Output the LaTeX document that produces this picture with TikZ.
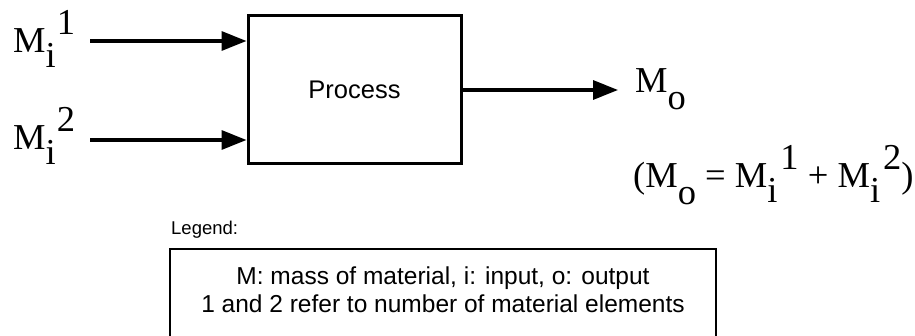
\documentclass[tikz,border=0pt]{standalone}
\usepackage{fontspec}
\setmainfont{Liberation Serif}
\newfontfamily\helv{Liberation Sans}
\usetikzlibrary{arrows.meta}

% flow label: M with a lowered index and a raised number (#3 = gap before the number)
\newcommand\flowlbl[3]{M\lower15pt\hbox{#1}\kern#3\raise18pt\hbox{#2}}

\begin{document}
\begin{tikzpicture}[x=1pt,y=-1pt,
  flow/.style={line width=3.3pt,-{Triangle[length=25pt,width=19pt]}},
  procbox/.style={draw,line width=3pt,minimum width=213pt,minimum height=148pt,inner sep=0pt,
    font=\helv\fontsize{25.5}{30}\selectfont},
  mlabel/.style={anchor=base west,inner sep=0pt,font=\fontsize{36.5}{40}\selectfont},
  legendbox/.style={minimum width=546pt,minimum height=100pt,inner sep=0pt,anchor=north west},
  legendframe/.style={line width=2pt},
  legendtext/.style={anchor=base,inner sep=0pt,font=\helv\fontsize{24.5}{28}\selectfont},
  legendtitle/.style={anchor=base west,inner sep=0pt,font=\helv\fontsize{18.5}{21}\selectfont}]
\useasboundingbox (0,0) rectangle (915,336);

% process block
\node[procbox] (proc) at (354.5,90) {Process};

% input flows
\node[mlabel] (in1) at (13,53) {\flowlbl{i}{1}{1pt}};
\node[mlabel] (in2) at (13,150) {\flowlbl{i}{2}{1pt}};
\coordinate (s1) at (90,41);
\coordinate (s2) at (90,140);
\draw[flow] (s1) -- (s1 -| proc.west);
\draw[flow] (s2) -- (s2 -| proc.west);

% output flow
\coordinate (e) at (618,90);
\draw[flow] (proc.east) -- (e);
\node[mlabel] (out) at (635,93) {M\lower17pt\hbox{o}};

% mass balance
\node[mlabel] (bal) at (633,188)
  {(M\lower17pt\hbox{o} = \flowlbl{i}{1}{3pt} + \flowlbl{i}{2}{3pt})};

% legend: frame open at the bottom edge
\node[legendtitle] (legtitle) at (171,235) {Legend:};
\node[legendbox] (legend) at (170,249) {};
\draw[legendframe] (legend.south west) -- (legend.north west) -- (legend.north east) -- (legend.south east);
\node[legendtext] (leg1) at (443,285) {M: mass of material, i: input, o: output};
\node[legendtext] (leg2) at (443,313) {1 and 2 refer to number of material elements};
\end{tikzpicture}
\end{document}
